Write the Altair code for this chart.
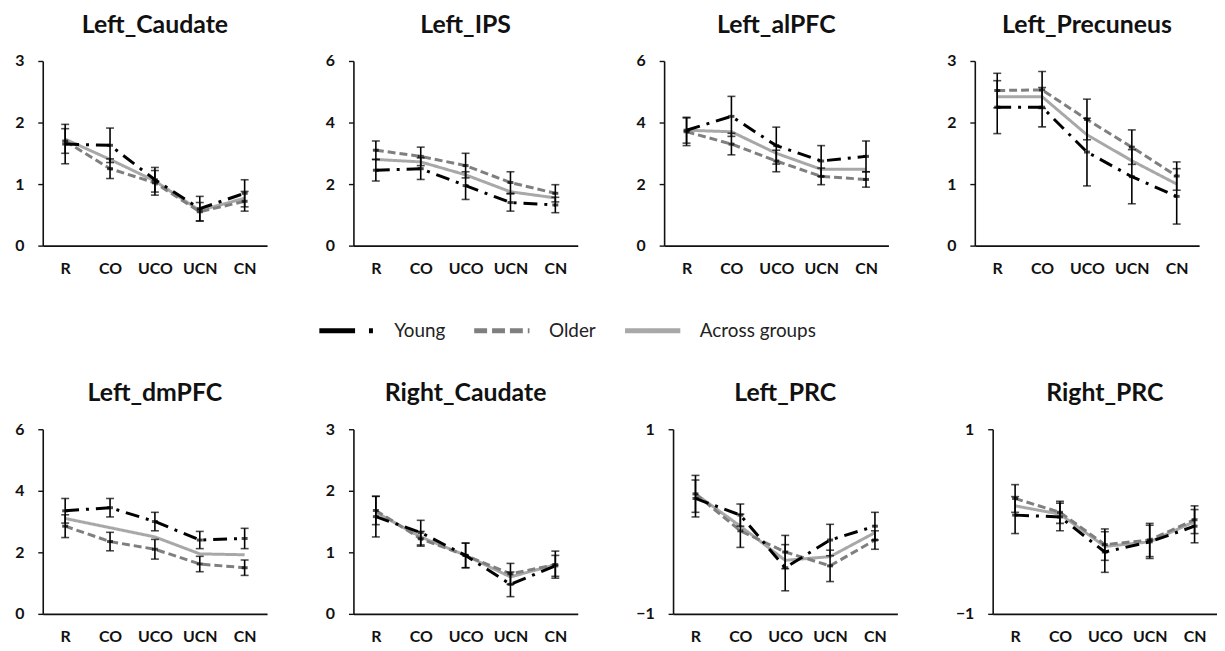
import altair as alt
import pandas as pd

CATS = ["R", "CO", "UCO", "UCN", "CN"]
SERIES = ["Young", "Older", "Across groups"]

# ---- values (means and error half-widths) ----
left_caudate_young = [1.65, 1.63, 1.07, 0.60, 0.85]
left_caudate_young_err = [0.32, 0.28, 0.20, 0.20, 0.22]
left_caudate_older = [1.70, 1.25, 1.02, 0.55, 0.72]
left_caudate_older_err = [0.20, 0.16, 0.20, 0.15, 0.16]
left_caudate_across = [1.73, 1.40, 1.05, 0.57, 0.77]

left_ips_young = [2.45, 2.50, 1.95, 1.40, 1.32]
left_ips_young_err = [0.35, 0.35, 0.45, 0.28, 0.25]
left_ips_older = [3.10, 2.90, 2.60, 2.05, 1.70]
left_ips_older_err = [0.30, 0.30, 0.40, 0.35, 0.28]
left_ips_across = [2.80, 2.72, 2.30, 1.75, 1.55]

left_alpfc_young = [3.75, 4.20, 3.25, 2.75, 2.90]
left_alpfc_young_err = [0.42, 0.65, 0.60, 0.50, 0.50]
left_alpfc_older = [3.70, 3.30, 2.75, 2.25, 2.15]
left_alpfc_older_err = [0.45, 0.35, 0.35, 0.27, 0.25]
left_alpfc_across = [3.75, 3.70, 3.00, 2.48, 2.48]

left_precuneus_young = [2.25, 2.25, 1.52, 1.12, 0.80]
left_precuneus_young_err = [0.43, 0.32, 0.55, 0.44, 0.45]
left_precuneus_older = [2.52, 2.53, 2.05, 1.60, 1.13]
left_precuneus_older_err = [0.28, 0.30, 0.33, 0.28, 0.23]
left_precuneus_across = [2.42, 2.42, 1.80, 1.38, 1.00]

left_dmpfc_young = [3.35, 3.45, 3.00, 2.40, 2.45]
left_dmpfc_young_err = [0.40, 0.30, 0.30, 0.28, 0.33]
left_dmpfc_older = [2.85, 2.35, 2.10, 1.62, 1.50]
left_dmpfc_older_err = [0.37, 0.30, 0.32, 0.25, 0.25]
left_dmpfc_across = [3.10, 2.80, 2.50, 1.95, 1.92]

right_caudate_young = [1.58, 1.32, 0.95, 0.48, 0.78]
right_caudate_young_err = [0.33, 0.20, 0.20, 0.20, 0.17]
right_caudate_older = [1.68, 1.22, 0.95, 0.65, 0.80]
right_caudate_older_err = [0.23, 0.12, 0.20, 0.17, 0.22]
right_caudate_across = [1.65, 1.25, 0.95, 0.60, 0.80]

left_prc_young = [0.25, 0.07, -0.50, -0.20, -0.05]
left_prc_young_err = [0.20, 0.12, 0.25, 0.17, 0.15]
left_prc_older = [0.30, -0.10, -0.33, -0.48, -0.20]
left_prc_older_err = [0.20, 0.18, 0.18, 0.17, 0.10]
left_prc_across = [0.30, -0.05, -0.42, -0.38, -0.12]

right_prc_young = [0.07, 0.05, -0.33, -0.22, -0.05]
right_prc_young_err = [0.20, 0.15, 0.22, 0.18, 0.18]
right_prc_older = [0.25, 0.10, -0.25, -0.20, 0.02]
right_prc_older_err = [0.15, 0.12, 0.17, 0.18, 0.15]
right_prc_across = [0.17, 0.08, -0.27, -0.22, 0.00]

PANELS = [
    ("Left_Caudate", left_caudate_young, left_caudate_young_err, left_caudate_older,
     left_caudate_older_err, left_caudate_across, [0, 3], [0, 1, 2, 3]),
    ("Left_IPS", left_ips_young, left_ips_young_err, left_ips_older,
     left_ips_older_err, left_ips_across, [0, 6], [0, 2, 4, 6]),
    ("Left_alPFC", left_alpfc_young, left_alpfc_young_err, left_alpfc_older,
     left_alpfc_older_err, left_alpfc_across, [0, 6], [0, 2, 4, 6]),
    ("Left_Precuneus", left_precuneus_young, left_precuneus_young_err, left_precuneus_older,
     left_precuneus_older_err, left_precuneus_across, [0, 3], [0, 1, 2, 3]),
    ("Left_dmPFC", left_dmpfc_young, left_dmpfc_young_err, left_dmpfc_older,
     left_dmpfc_older_err, left_dmpfc_across, [0, 6], [0, 2, 4, 6]),
    ("Right_Caudate", right_caudate_young, right_caudate_young_err, right_caudate_older,
     right_caudate_older_err, right_caudate_across, [0, 3], [0, 1, 2, 3]),
    ("Left_PRC", left_prc_young, left_prc_young_err, left_prc_older,
     left_prc_older_err, left_prc_across, [-1, 1], [-1, 0, 1]),
    ("Right_PRC", right_prc_young, right_prc_young_err, right_prc_older,
     right_prc_older_err, right_prc_across, [-1, 1], [-1, 0, 1]),
]

COLORS = {"Young": "#000000", "Older": "#7f7f7f", "Across groups": "#a8a8a8"}
DASH_PANEL = {"Young": [14, 7, 3, 7], "Older": [8, 4], "Across groups": [1, 0]}
DASH_LEGEND = [[36, 14, 4, 14], [13, 5], [1, 0]]

FONT = "Lato"
W, H = 226, 186


def make_panel(name, y, ye, o, oe, a, domain, ticks):
    rows = []
    for i, c in enumerate(CATS):
        rows.append({"cond": c, "series": "Young", "mean": y[i], "lo": y[i] - ye[i], "hi": y[i] + ye[i]})
        rows.append({"cond": c, "series": "Older", "mean": o[i], "lo": o[i] - oe[i], "hi": o[i] + oe[i]})
        rows.append({"cond": c, "series": "Across groups", "mean": a[i], "lo": a[i], "hi": a[i]})
    df = pd.DataFrame(rows)

    xenc = alt.X("cond:N", sort=CATS, scale=alt.Scale(type="point", padding=0.5),
                 axis=alt.Axis(title=None, labelAngle=0, ticks=False, labelPadding=15,
                               labelFontSize=16, labelFontWeight="bold", labelFont=FONT,
                               labelColor="#111", domainColor="#111", domainWidth=1.6))
    yscale = alt.Scale(domain=domain, nice=False, zero=False)
    yaxis = alt.Axis(title=None, values=ticks, format="d", grid=False, tickSize=5,
                     tickColor="#111", tickWidth=1.4, domainColor="#111", domainWidth=1.6,
                     labelFontSize=16, labelFontWeight="bold", labelFont=FONT,
                     labelColor="#111", labelPadding=14)

    base = alt.Chart(df)
    layers = []
    for s in ["Across groups", "Older", "Young"]:
        layers.append(
            base.transform_filter(alt.datum.series == s)
            .mark_line(strokeWidth=3, color=COLORS[s], strokeDash=DASH_PANEL[s])
            .encode(x=xenc, y=alt.Y("mean:Q", scale=yscale, axis=yaxis))
        )
    eb = base.transform_filter(alt.datum.series != "Across groups")
    layers.append(eb.mark_rule(color="#000", strokeWidth=1.6)
                  .encode(x=alt.X("cond:N", sort=CATS), y="lo:Q", y2="hi:Q"))
    layers.append(eb.mark_tick(color="#000", thickness=1.6, size=8)
                  .encode(x=alt.X("cond:N", sort=CATS), y="lo:Q"))
    layers.append(eb.mark_tick(color="#000", thickness=1.6, size=8)
                  .encode(x=alt.X("cond:N", sort=CATS), y="hi:Q"))
    layers.append(eb.mark_tick(color="#000", thickness=3, size=6)
                  .encode(x=alt.X("cond:N", sort=CATS), y="mean:Q"))

    return alt.layer(*layers).properties(
        width=W, height=H,
        title=alt.TitleParams(name, fontSize=25, fontWeight="bold", font=FONT, color="#111",
                              anchor="middle", frame="group", offset=15),
    )


panels = [make_panel(*p) for p in PANELS]
row1 = alt.hconcat(*panels[:4], spacing=58)
row2 = alt.hconcat(*panels[4:], spacing=58)

legend_df = pd.DataFrame({"series": SERIES})
legend_chart = alt.Chart(legend_df).mark_line().encode(
    x=alt.value(0), y=alt.value(0),
    color=alt.Color("series:N", scale=alt.Scale(domain=SERIES, range=[COLORS[s] for s in SERIES]),
                    legend=alt.Legend(title=None, orient="none", direction="horizontal",
                                      legendX=276, legendY=241, symbolType="stroke",
                                      symbolSize=3100, symbolStrokeWidth=5, labelFontSize=19,
                                      labelFont=FONT, labelColor="#222", labelOffset=17,
                                      columnPadding=18)),
    strokeDash=alt.StrokeDash("series:N", scale=alt.Scale(domain=SERIES, range=DASH_LEGEND),
                              legend=None),
).properties(width=1100, height=1)

chart = alt.vconcat(row1, legend_chart, row2, spacing=49).properties(
    padding={"left": 6, "top": 3, "right": 0, "bottom": 0}
).configure_view(stroke=None)

chart.save("out.html", embed_options={"renderer": "svg", "actions": False})
